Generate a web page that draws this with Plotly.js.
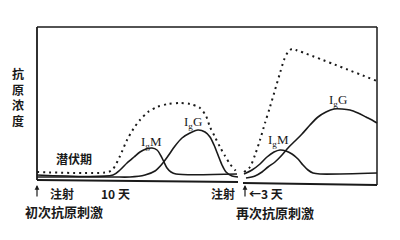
<!DOCTYPE html>
<html><head><meta charset="utf-8">
<script src="https://cdn.plot.ly/plotly-3.0.1.min.js"></script>
<style>html,body{margin:0;padding:0;background:#fff;}#chart{width:400px;height:240px;}</style>
</head><body><div id="chart"></div>
<script>
// Primary response (arbitrary units: x = time, y = concentration)
const totalPrimX = [0,71,76,83,90,97,103,111,120,131,143,153,163,169,173,178,183,188,193,198,201];
const totalPrimY = [18,18,21,34,50,62,70,78,83,86,87,86,82,74,63,53,43,34,26,20,17];
const igmPrimX = [0,76,83,90,97,103,109,115,120,124,127,130,134,139,200];
const igmPrimY = [15,15,20,27,33,38,41,42,40,34,28,22,18,16,16];
const iggPrimX = [0,76,93,108,118,125,131,138,145,153,161,168,173,177,181,185,189,195,201];
const iggPrimY = [13,13,13,15,19,26,34,44,52,57,60,58,53,45,35,25,18,14,13];
// Secondary response
const totalSecX = [207,213,218,223,228,233,238,243,247,251,255,259,340];
const totalSecY = [18,23,35,50,67,83,100,117,130,138,141,140,109];
const igmSecX = [207,215,223,230,237,243,249,255,261,266,271,276,283,340];
const igmSecY = [16,20,26,33,38,40,39,36,31,25,20,17,16,17];
const iggSecX = [209,218,225,231,238,245,251,258,265,273,281,289,297,305,313,321,329,335,340];
const iggSecY = [12,14,18,23,28,35,42,49,56,65,73,78,81,81,80,77,73,70,67];

const ink = '#1a1a1a';
const cjk = '"Noto Sans CJK SC", "Noto Sans", sans-serif';
const serif = '"Liberation Serif", "DejaVu Serif", serif';
const solid = {color: ink, width: 1.6, shape: 'spline', smoothing: 0.8};
const dotted = {color: ink, width: 2, dash: '2px,4px', shape: 'spline', smoothing: 0.8};

const traces = [
  {x: totalPrimX, y: totalPrimY, mode: 'lines', line: dotted},
  {x: igmPrimX, y: igmPrimY, mode: 'lines', line: solid},
  {x: iggPrimX, y: iggPrimY, mode: 'lines', line: solid},
  {x: totalSecX, y: totalSecY, mode: 'lines', line: dotted},
  {x: igmSecX, y: igmSecY, mode: 'lines', line: solid},
  {x: iggSecX, y: iggSecY, mode: 'lines', line: solid}
];

function txt(x, y, text, size, fam, ref) {
  return {x: x, y: y, xref: ref || 'x', yref: ref ? 'paper' : 'y', text: text, showarrow: false,
    xanchor: 'center', yanchor: 'middle',
    font: {family: fam || cjk, size: size || 12, color: ink, weight: fam ? 'normal' : 'bold'}};
}
function up(x) {
  return {x: x, y: 5, xref: 'x', yref: 'y', text: '', showarrow: true,
    ax: 0, ay: 13, arrowhead: 2, arrowsize: 0.8, arrowwidth: 1.2, arrowcolor: ink};
}

const layout = {
  width: 400, height: 240,
  margin: {l: 32, r: 18, t: 22, b: 45},
  paper_bgcolor: '#fff', plot_bgcolor: '#fff',
  showlegend: false,
  xaxis: {range: [-5, 345], visible: false, fixedrange: true},
  yaxis: {range: [-5, 168], visible: false, fixedrange: true},
  shapes: [
    {type: 'line', x0: 0, y0: 163, x1: 340, y1: 163, line: {color: ink, width: 1.5}},
    {type: 'line', x0: 0, y0: 163, x1: 0, y1: 10, line: {color: ink, width: 1.8}},
    {type: 'line', x0: 340, y0: 163, x1: 340, y1: 5, line: {color: ink, width: 1.5}},
    {type: 'line', x0: 0, y0: 10, x1: 201, y1: 8, line: {color: ink, width: 2}},
    {type: 'line', x0: 206, y0: 7, x1: 340, y1: 5, line: {color: ink, width: 2}}
  ],
  annotations: [
    txt(-0.04, 0.566, '抗<br>原<br>浓<br>度', 12, null, 'paper'),
    txt(37, 32, '潜伏期', 12),
    txt(114, 48, 'I<sub>g</sub>M', 13, serif),
    txt(156, 68, 'I<sub>g</sub>G', 13, serif),
    txt(241, 50, 'I<sub>g</sub>M', 13, serif),
    txt(301, 90, 'I<sub>g</sub>G', 13, serif),
    txt(25, -3, '注射', 12),
    txt(78, -3, '10 天', 12),
    txt(0.0914, -0.098, '初次抗原刺激', 13, null, 'paper'),
    txt(186, -3, '注射', 12),
    txt(229, -3, '←3 天', 12),
    txt(0.694, -0.104, '再次抗原刺激', 13, null, 'paper'),
    up(0), up(208)
  ]
};

Plotly.newPlot('chart', traces, layout, {staticPlot: true, displayModeBar: false});
</script></body></html>
